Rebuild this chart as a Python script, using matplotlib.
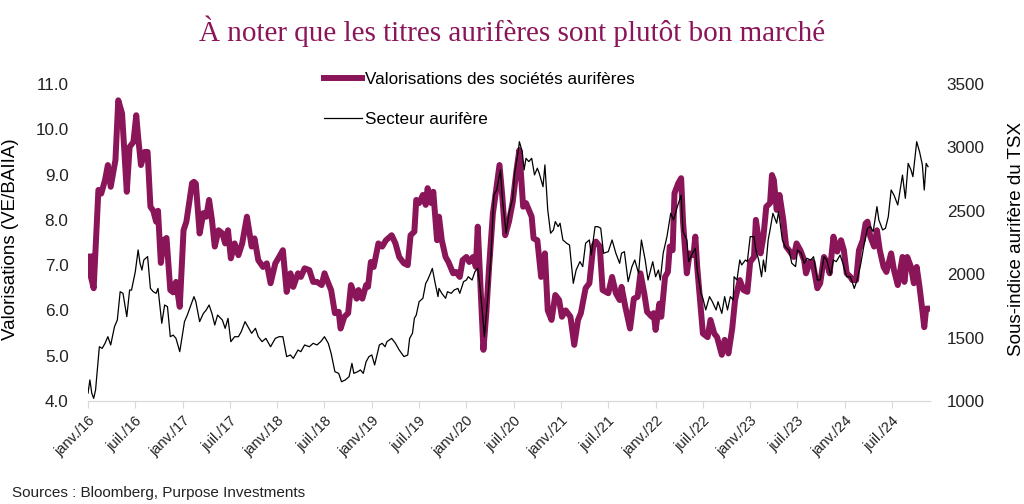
import matplotlib
matplotlib.use("Agg")
import matplotlib.pyplot as plt
import numpy as np
import pandas as pd

plt.rcParams['font.family'] = ['Liberation Sans', 'DejaVu Sans']

# valorisations (VE/BAIIA) -- decimal year, value
val_t = [2016.02, 2016.03, 2016.06, 2016.11, 2016.14, 2016.18, 2016.21, 2016.24, 2016.29, 2016.32,
         2016.36, 2016.41, 2016.44, 2016.48, 2016.51, 2016.53, 2016.56, 2016.60, 2016.63, 2016.66,
         2016.69, 2016.72, 2016.74, 2016.77, 2016.80, 2016.83, 2016.87, 2016.90, 2016.93, 2016.97,
         2017.01, 2017.04, 2017.10, 2017.12, 2017.14, 2017.18, 2017.22, 2017.25, 2017.28, 2017.31,
         2017.34, 2017.38, 2017.42, 2017.45, 2017.48, 2017.51, 2017.55, 2017.59, 2017.63, 2017.68,
         2017.73, 2017.76, 2017.80, 2017.85, 2017.89, 2017.93, 2017.98, 2018.02, 2018.06, 2018.10,
         2018.14, 2018.17, 2018.22, 2018.25, 2018.29, 2018.34, 2018.38, 2018.42, 2018.47, 2018.50,
         2018.54, 2018.57, 2018.61, 2018.65, 2018.67, 2018.71, 2018.75, 2018.78, 2018.80, 2018.84,
         2018.86, 2018.90, 2018.94, 2018.96, 2018.99, 2019.02, 2019.07, 2019.11, 2019.15, 2019.21,
         2019.25, 2019.29, 2019.34, 2019.38, 2019.41, 2019.45, 2019.47, 2019.50, 2019.54, 2019.57,
         2019.59, 2019.63, 2019.65, 2019.69, 2019.71, 2019.74, 2019.78, 2019.81, 2019.86, 2019.89,
         2019.93, 2019.96, 2020.00, 2020.03, 2020.07, 2020.10, 2020.12, 2020.14, 2020.18, 2020.21,
         2020.24, 2020.28, 2020.31, 2020.35, 2020.38, 2020.41, 2020.45, 2020.49, 2020.53, 2020.56,
         2020.60, 2020.63, 2020.69, 2020.71, 2020.75, 2020.79, 2020.83, 2020.86, 2020.90, 2020.94,
         2020.98, 2021.01, 2021.05, 2021.10, 2021.14, 2021.18, 2021.21, 2021.26, 2021.30, 2021.34,
         2021.37, 2021.41, 2021.44, 2021.50, 2021.54, 2021.58, 2021.62, 2021.64, 2021.68, 2021.73,
         2021.77, 2021.81, 2021.84, 2021.88, 2021.91, 2021.96, 2021.98, 2022.00, 2022.04, 2022.06,
         2022.10, 2022.13, 2022.15, 2022.18, 2022.20, 2022.24, 2022.27, 2022.29, 2022.33, 2022.36,
         2022.40, 2022.42, 2022.44, 2022.47, 2022.50, 2022.55, 2022.58, 2022.62, 2022.65, 2022.70,
         2022.73, 2022.77, 2022.81, 2022.84, 2022.89, 2022.93, 2022.97, 2023.00, 2023.04, 2023.06,
         2023.09, 2023.11, 2023.14, 2023.17, 2023.21, 2023.23, 2023.25, 2023.28, 2023.31, 2023.35,
         2023.38, 2023.42, 2023.46, 2023.49, 2023.53, 2023.57, 2023.59, 2023.63, 2023.66, 2023.71,
         2023.74, 2023.78, 2023.81, 2023.84, 2023.88, 2023.92, 2023.96, 2023.99, 2024.02, 2024.06,
         2024.08, 2024.12, 2024.15, 2024.19, 2024.22, 2024.24, 2024.27, 2024.31, 2024.34, 2024.37,
         2024.41, 2024.44, 2024.49, 2024.52, 2024.56, 2024.61, 2024.63, 2024.66, 2024.70, 2024.73,
         2024.76, 2024.79, 2024.82, 2024.84, 2024.86, 2024.88]
val_v = [7.19, 6.75, 6.49, 8.66, 8.58, 8.88, 9.21, 8.73, 9.32, 10.64,
         10.35, 8.62, 9.61, 9.72, 10.31, 9.83, 9.21, 9.50, 9.50, 8.29,
         8.20, 7.96, 8.20, 7.05, 7.55, 7.60, 6.45, 6.40, 6.63, 6.08,
         7.77, 7.96, 8.81, 8.84, 8.80, 7.70, 8.15, 8.07, 8.44, 8.00,
         7.41, 7.77, 7.70, 7.48, 7.77, 7.15, 7.48, 7.22, 7.48, 8.07,
         7.41, 7.59, 7.11, 6.96, 7.04, 6.60, 7.04, 7.18, 7.33, 6.41,
         6.82, 6.52, 6.82, 6.74, 6.93, 6.89, 6.63, 6.63, 6.56, 6.82,
         6.60, 6.45, 5.94, 5.97, 5.60, 5.86, 5.94, 6.56, 6.45, 6.26,
         6.45, 6.26, 6.56, 6.52, 7.07, 6.96, 7.48, 7.41, 7.55, 7.66,
         7.48, 7.18, 7.04, 7.00, 7.66, 7.74, 8.44, 8.37, 8.55, 8.33,
         8.70, 8.37, 8.62, 7.55, 8.07, 7.55, 7.18, 7.07, 6.82, 6.85,
         6.74, 7.11, 7.18, 7.07, 7.18, 6.96, 7.85, 6.96, 5.13, 5.94,
         6.96, 8.14, 8.59, 9.21, 8.51, 7.66, 7.96, 8.40, 9.10, 9.54,
         8.29, 8.37, 8.07, 7.59, 7.55, 6.74, 7.26, 6.00, 5.79, 6.34,
         6.23, 5.86, 6.00, 5.86, 5.24, 5.79, 5.94, 6.49, 6.60, 7.41,
         7.52, 7.41, 6.45, 6.38, 6.74, 6.38, 6.23, 6.52, 6.08, 5.60,
         6.26, 6.30, 6.82, 6.38, 5.97, 5.86, 5.94, 5.57, 6.15, 5.86,
         6.74, 6.85, 7.41, 7.33, 8.59, 8.81, 8.92, 7.96, 6.82, 7.26,
         7.22, 7.63, 6.96, 6.23, 5.49, 5.41, 5.79, 5.49, 5.41, 5.02,
         5.35, 5.05, 5.60, 6.23, 6.67, 6.45, 6.41, 7.07, 7.18, 8.00,
         7.55, 7.26, 7.63, 8.29, 8.37, 8.99, 8.88, 8.22, 8.55, 8.00,
         7.41, 7.30, 7.18, 7.48, 7.33, 7.11, 6.82, 7.07, 7.07, 6.49,
         6.60, 7.18, 7.07, 6.82, 7.63, 7.30, 7.55, 7.33, 6.82, 6.74,
         6.67, 6.67, 7.33, 7.55, 7.92, 7.96, 7.63, 7.41, 7.77, 7.33,
         6.96, 6.85, 7.26, 6.89, 6.56, 7.18, 6.63, 7.18, 6.96, 6.60,
         6.96, 6.52, 6.00, 5.63, 6.04, 6.04]

# sous-indice aurifere du TSX -- decimal year, value
tsx_t = [2016.00, 2016.02, 2016.04, 2016.06, 2016.08, 2016.12, 2016.15, 2016.18, 2016.21, 2016.24,
         2016.28, 2016.31, 2016.34, 2016.37, 2016.41, 2016.44, 2016.46, 2016.50, 2016.53, 2016.55,
         2016.57, 2016.59, 2016.63, 2016.66, 2016.69, 2016.72, 2016.74, 2016.78, 2016.81, 2016.84,
         2016.87, 2016.90, 2016.93, 2016.97, 2017.02, 2017.05, 2017.10, 2017.12, 2017.14, 2017.18,
         2017.22, 2017.25, 2017.28, 2017.31, 2017.34, 2017.37, 2017.42, 2017.45, 2017.48, 2017.51,
         2017.55, 2017.59, 2017.62, 2017.66, 2017.70, 2017.73, 2017.77, 2017.80, 2017.84, 2017.88,
         2017.93, 2017.98, 2018.02, 2018.06, 2018.10, 2018.14, 2018.17, 2018.22, 2018.25, 2018.29,
         2018.34, 2018.38, 2018.42, 2018.46, 2018.50, 2018.54, 2018.57, 2018.61, 2018.65, 2018.68,
         2018.72, 2018.76, 2018.79, 2018.81, 2018.85, 2018.88, 2018.91, 2018.94, 2018.97, 2019.00,
         2019.03, 2019.08, 2019.11, 2019.14, 2019.16, 2019.21, 2019.25, 2019.29, 2019.34, 2019.38,
         2019.40, 2019.43, 2019.45, 2019.47, 2019.50, 2019.54, 2019.57, 2019.59, 2019.62, 2019.64,
         2019.67, 2019.70, 2019.71, 2019.74, 2019.78, 2019.80, 2019.84, 2019.87, 2019.91, 2019.93,
         2019.97, 2020.00, 2020.02, 2020.06, 2020.09, 2020.12, 2020.14, 2020.17, 2020.19, 2020.23,
         2020.26, 2020.29, 2020.32, 2020.36, 2020.38, 2020.42, 2020.45, 2020.49, 2020.51, 2020.55,
         2020.56, 2020.59, 2020.61, 2020.63, 2020.66, 2020.69, 2020.72, 2020.75, 2020.77, 2020.81,
         2020.83, 2020.86, 2020.89, 2020.92, 2020.94, 2020.97, 2020.99, 2021.02, 2021.06, 2021.09,
         2021.13, 2021.16, 2021.20, 2021.23, 2021.26, 2021.30, 2021.32, 2021.36, 2021.39, 2021.42,
         2021.45, 2021.50, 2021.54, 2021.58, 2021.62, 2021.64, 2021.67, 2021.71, 2021.75, 2021.78,
         2021.82, 2021.85, 2021.89, 2021.92, 2021.97, 2022.00, 2022.03, 2022.05, 2022.08, 2022.12,
         2022.16, 2022.19, 2022.23, 2022.27, 2022.29, 2022.33, 2022.35, 2022.38, 2022.42, 2022.44,
         2022.48, 2022.50, 2022.53, 2022.57, 2022.60, 2022.64, 2022.66, 2022.70, 2022.73, 2022.76,
         2022.79, 2022.82, 2022.83, 2022.86, 2022.89, 2022.91, 2022.95, 2022.97, 2023.00, 2023.04,
         2023.06, 2023.09, 2023.12, 2023.14, 2023.16, 2023.19, 2023.21, 2023.24, 2023.28, 2023.30,
         2023.34, 2023.37, 2023.41, 2023.44, 2023.48, 2023.50, 2023.54, 2023.57, 2023.60, 2023.64,
         2023.67, 2023.71, 2023.74, 2023.78, 2023.81, 2023.85, 2023.88, 2023.91, 2023.95, 2023.98,
         2024.02, 2024.06, 2024.10, 2024.13, 2024.17, 2024.20, 2024.24, 2024.27, 2024.30, 2024.34,
         2024.36, 2024.40, 2024.43, 2024.46, 2024.49, 2024.52, 2024.56, 2024.61, 2024.64, 2024.67,
         2024.70, 2024.72, 2024.76, 2024.79, 2024.82, 2024.84, 2024.86, 2024.88]
tsx_v = [1061, 1166, 1061, 1021, 1087, 1428, 1415, 1455, 1507, 1442,
         1586, 1639, 1862, 1849, 1665, 1875, 1875, 2020, 2191, 2086,
         2033, 2112, 2139, 1888, 1862, 1849, 1888, 1613, 1757, 1744,
         1507, 1520, 1494, 1389, 1626, 1678, 1783, 1823, 1783, 1626,
         1691, 1718, 1757, 1691, 1599, 1678, 1639, 1573, 1652, 1468,
         1507, 1507, 1547, 1626, 1573, 1534, 1573, 1507, 1468, 1494,
         1428, 1494, 1507, 1507, 1350, 1363, 1336, 1402, 1389, 1442,
         1428, 1455, 1442, 1468, 1507, 1455, 1376, 1231, 1218, 1152,
         1166, 1192, 1297, 1218, 1231, 1245, 1218, 1310, 1350, 1363,
         1284, 1442, 1455, 1428, 1468, 1494, 1455, 1402, 1350, 1363,
         1494, 1534, 1652, 1678, 1783, 1810, 1928, 1954, 2007, 2046,
         1928, 1823, 1888, 1849, 1810, 1862, 1849, 1875, 1888, 1849,
         1941, 1954, 1980, 1954, 2020, 2046, 1928, 1691, 1507, 1849,
         2138, 2624, 2664, 2822, 2598, 2323, 2480, 2598, 2796, 2980,
         3045, 2967, 2822, 2914, 2888, 2914, 2783, 2836, 2796, 2690,
         2862, 2507, 2323, 2349, 2415, 2375, 2402, 2270, 2244, 2230,
         1928, 2033, 2099, 2060, 2244, 2270, 2151, 2375, 2375, 2362,
         2165, 2178, 2270, 2165, 2086, 2165, 2178, 1941, 2060, 2112,
         2007, 2270, 2112, 1954, 2099, 1980, 2033, 1954, 2165, 2296,
         2480, 2428, 2533, 2624, 2336, 2270, 2099, 2151, 2204, 2033,
         1849, 1810, 1718, 1823, 1783, 1718, 1783, 1691, 1823, 1718,
         1823, 1797, 1980, 1954, 2112, 2073, 2112, 2099, 2296, 2296,
         2191, 2112, 1980, 2112, 2020, 2270, 2349, 2480, 2402, 2494,
         2270, 2217, 2191, 2086, 2060, 2191, 2165, 2086, 2125, 2112,
         2138, 1954, 1954, 2138, 2112, 1993, 2112, 2099, 2151, 2086,
         1980, 1980, 1888, 1954, 2086, 2217, 2362, 2375, 2336, 2533,
         2428, 2349, 2362, 2454, 2664, 2624, 2546, 2782, 2598, 2874,
         2822, 2769, 3045, 2967, 2862, 2664, 2874, 2848]

tick_labels = ["janv./16", "juil./16", "janv./17", "juil./17", "janv./18", "juil./18",
               "janv./19", "juil./19", "janv./20", "juil./20", "janv./21", "juil./21",
               "janv./22", "juil./22", "janv./23", "juil./23", "janv./24", "juil./24"]

purple = "#8A1558"
start = pd.Timestamp("2016-01-01")


def to_dates(years):
    return [start + pd.Timedelta(days=(y - 2016) * 365.25) for y in years]


val_dates = to_dates(val_t)
tsx_dates = to_dates(tsx_t)
tick_dates = [pd.Timestamp(2016 + i // 2, 1 + 6 * (i % 2), 1) for i in range(len(tick_labels))]

fig = plt.figure(figsize=(10.24, 5.04), dpi=100)
ax1 = fig.add_axes([88 / 1024, 1 - 401 / 504, 842 / 1024, 317 / 504])
ax2 = ax1.twinx()

l1, = ax1.plot(val_dates, val_v, color=purple, lw=4.3, solid_joinstyle='round',
               label="Valorisations des sociétés aurifères")
l2, = ax2.plot(tsx_dates, tsx_v, color='black', lw=0.9, label="Secteur aurifère")

ax1.set_ylim(4, 11)
ax2.set_ylim(1000, 3500)
ax1.set_yticks(np.arange(4, 11.01, 1.0))
ax1.set_yticklabels([f"{v:.1f}" for v in np.arange(4, 11.01, 1.0)])
ax2.set_yticks(np.arange(1000, 3501, 500))
ax1.set_xlim(start, pd.Timestamp("2024-11-25"))

ax1.set_xticks(tick_dates)
ax1.set_xticklabels(tick_labels, rotation=45, ha='right', rotation_mode='anchor')

for ax in (ax1, ax2):
    for s in ('top', 'left', 'right'):
        ax.spines[s].set_visible(False)
    ax.spines['bottom'].set_color('#d9d9d9')
    ax.tick_params(axis='y', length=0, labelsize=12.3, colors='#222222')
ax1.tick_params(axis='y', pad=14)
ax2.tick_params(axis='y', pad=12)
ax1.tick_params(axis='x', length=5, color='#d9d9d9', labelsize=10.5, labelcolor='#222222', pad=4)

ax1.set_ylabel("Valorisations (VE/BAIIA)", fontsize=13.5)
ax1.yaxis.set_label_coords(-0.0814, 0.51)
ax2.set_ylabel("Sous-indice aurifère du TSX", fontsize=13.5)
ax2.yaxis.set_label_coords(1.0926, 0.51)

fig.legend(handles=[l1, l2], loc='upper left', bbox_to_anchor=(324 / 1024, 1 - 72 / 504),
           frameon=False, fontsize=12.3, handlelength=2.2, handletextpad=0.2,
           labelspacing=1.45, borderpad=0, borderaxespad=0)

fig.text(0.5, 1 - 31 / 504, "À noter que les titres aurifères sont plutôt bon marché",
         ha='center', va='center', fontsize=21, color=purple, family='Liberation Serif')
fig.text(12 / 1024, 1 - 493 / 504, "Sources : Bloomberg, Purpose Investments",
         ha='left', va='center', fontsize=11, color='#222222')

fig.savefig("out.png", dpi=100)
